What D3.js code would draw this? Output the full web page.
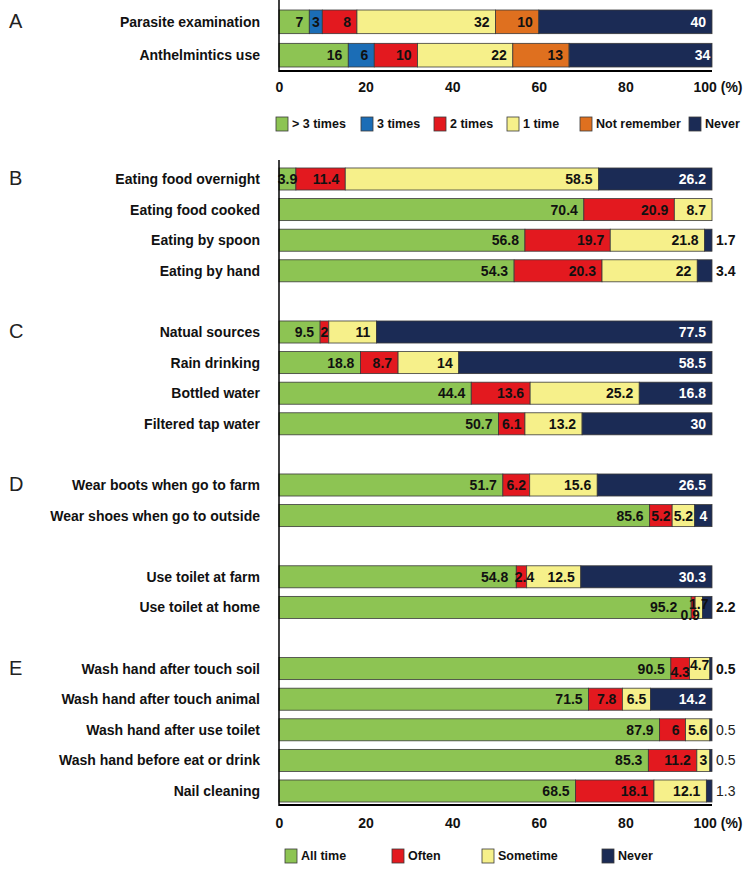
<!DOCTYPE html>
<html><head><meta charset="utf-8">
<script src="https://cdn.jsdelivr.net/npm/d3@7"></script>
<style>
body{margin:0;background:#fff}
text{font-family:"Liberation Sans",Arial,Helvetica,sans-serif}
</style>
</head><body>
<svg id="chart" width="753" height="875"></svg>
<script>
// ---------- DATA ----------
const freqKeys = ["> 3 times", "3 times", "2 times", "1 time", "Not remember", "Never"];
const freqCategories = ["Parasite examination", "Anthelmintics use"];
const parasiteExamination = [7, 3, 8, 32, 10, 40];
const anthelminticsUse = [16, 6, 10, 22, 13, 34];

const habitKeys = ["All time", "Often", "Sometime", "Never"];
const sectionBCategories = ["Eating food overnight", "Eating food cooked", "Eating by spoon", "Eating by hand"];
const sectionBValues = [[3.9, 11.4, 58.5, 26.2], [70.4, 20.9, 8.7, 0], [56.8, 19.7, 21.8, 1.7], [54.3, 20.3, 22, 3.4]];
const sectionCCategories = ["Natual sources", "Rain drinking", "Bottled water", "Filtered tap water"];
const sectionCValues = [[9.5, 2, 11, 77.5], [18.8, 8.7, 14, 58.5], [44.4, 13.6, 25.2, 16.8], [50.7, 6.1, 13.2, 30]];
const sectionDCategories = ["Wear boots when go to farm", "Wear shoes when go to outside"];
const sectionDValues = [[51.7, 6.2, 15.6, 26.5], [85.6, 5.2, 5.2, 4]];
const sectionD2Categories = ["Use toilet at farm", "Use toilet at home"];
const sectionD2Values = [[54.8, 2.4, 12.5, 30.3], [95.2, 0.9, 1.7, 2.2]];
const sectionECategories = ["Wash hand after touch soil", "Wash hand after touch animal", "Wash hand after use toilet", "Wash hand before eat or drink", "Nail cleaning"];
const sectionEValues = [[90.5, 4.3, 4.7, 0.5], [71.5, 7.8, 6.5, 14.2], [87.9, 6, 5.6, 0.5], [85.3, 11.2, 3, 0.5], [68.5, 18.1, 12.1, 1.3]];

const tickValues = [0, 20, 40, 60, 80, 100];
const tickLabels = ["0", "20", "40", "60", "80", "100 (%)"];

// ---------- STYLE ----------
const freqColors = ["#8dc453", "#1b6db6", "#e3191f", "#f6f08a", "#df701f", "#1b2b55"];
const habitColors = ["#8dc453", "#e3191f", "#f6f08a", "#1b2b55"];
const labelNudges = {
  "Use toilet at farm|0": {dx: -2, dy: 0},
  "Use toilet at farm|1": {dx: 3, dy: 0},
  "Use toilet at home|0": {dx: -8, dy: 0},
  "Use toilet at home|1": {dx: -3, dy: 8},
  "Use toilet at home|2": {dx: 0, dy: -3},
  "Wash hand after touch soil|1": {dx: 0, dy: 3},
  "Wash hand after touch soil|2": {dx: 0, dy: -4}
};
const lightOutside = new Set(["Wash hand after use toilet", "Wash hand before eat or drink", "Nail cleaning"]);

const svg = d3.select("#chart");
const x = d3.scaleLinear().domain([0, 100]).range([279, 712]);

// Section A scale
const yA = d3.scaleBand().domain(freqCategories).range([6, 71]).paddingInner(0.29).paddingOuter(0.12);

// Sections B-E scale (with blank rows as gaps)
const rowsBE = [];
function addRows(cats, vals) { cats.forEach((c, i) => rowsBE.push({label: c, values: vals[i]})); }
addRows(sectionBCategories, sectionBValues);
addRows(sectionCCategories, sectionCValues);
addRows(sectionDCategories, sectionDValues);
addRows(sectionD2Categories, sectionD2Values);
addRows(sectionECategories, sectionEValues);
const domainBE = [...sectionBCategories, "gap1", ...sectionCCategories, "gap2", ...sectionDCategories, "gap3", ...sectionD2Categories, "gap4", ...sectionECategories];
const yBE = d3.scaleBand().domain(domainBE).range([163.7, 806.3]).paddingInner(0.28).paddingOuter(0.14);

const rowsA = [
  {label: freqCategories[0], values: parasiteExamination},
  {label: freqCategories[1], values: anthelminticsUse}
];

// measuring helper
const measure = svg.append("text").attr("font-size", 14).attr("font-weight", "bold").attr("opacity", 0);
function textWidth(s) { measure.text(s); return measure.node().getComputedTextLength(); }

function drawRows(rows, y, colors, navyIndex) {
  rows.forEach(row => {
    const g = svg.append("g");
    const segs = [];
    let acc = 0;
    row.values.forEach((v, i) => { segs.push({v, i, x0: acc, x1: acc + v}); acc += v; });
    const yy = y(row.label), bh = y.bandwidth(), cy = yy + bh / 2;
    // bars
    g.selectAll("rect").data(segs.filter(s => s.v > 0)).join("rect")
      .attr("x", s => x(s.x0)).attr("y", yy)
      .attr("width", s => Math.max(0, x(Math.min(s.x1, 100)) - x(s.x0)))
      .attr("height", bh)
      .attr("fill", s => colors[s.i])
      .attr("stroke", "#3a3a3a").attr("stroke-width", 0.8);
    // category label
    svg.append("text").attr("x", 260).attr("y", cy).attr("dy", "0.35em")
      .attr("text-anchor", "end").attr("font-size", 14).attr("font-weight", "bold")
      .attr("fill", "#111").text(row.label);
    // value labels
    segs.filter(s => s.v > 0).forEach(s => {
      const txt = String(s.v);
      const w = textWidth(txt);
      const sw = x(s.x1) - x(s.x0);
      const isNavy = s.i === navyIndex;
      let tx, anchor, fill = isNavy ? "#fff" : "#111", weight = "bold";
      if (isNavy && sw < w + 2) {
        tx = x(100) + 4; anchor = "start"; fill = "#111";
        if (lightOutside.has(row.label)) { weight = "normal"; fill = "#222"; }
      } else if (sw >= w + 14) {
        tx = x(s.x1) - 6; anchor = "end";
      } else {
        tx = (x(s.x0) + x(s.x1)) / 2; anchor = "middle";
      }
      const n = labelNudges[row.label + "|" + s.i] || {dx: 0, dy: 0};
      svg.append("text").attr("x", tx + n.dx).attr("y", cy + n.dy).attr("dy", "0.36em")
        .attr("text-anchor", anchor).attr("font-size", 14).attr("font-weight", weight)
        .attr("fill", fill).text(txt);
    });
  });
}

drawRows(rowsA, yA, freqColors, 5);
drawRows(rowsBE, yBE, habitColors, 3);

// axes lines
function axisLines(yTop, yBottom) {
  svg.append("line").attr("x1", x(0)).attr("x2", x(0)).attr("y1", yTop).attr("y2", yBottom + 1)
    .attr("stroke", "#000").attr("stroke-width", 1.5);
  svg.append("line").attr("x1", x(0)).attr("x2", x(100)).attr("y1", yBottom).attr("y2", yBottom)
    .attr("stroke", "#000").attr("stroke-width", 2);
}
axisLines(0, 71);
axisLines(160, 805);

// tick labels via d3 axis (no domain/ticks)
function tickAxis(yPos) {
  const ax = d3.axisBottom(x).tickValues(tickValues).tickSize(0).tickPadding(0)
    .tickFormat((d, i) => tickLabels[i]);
  const g = svg.append("g").attr("transform", `translate(0,${yPos})`).call(ax);
  g.select(".domain").remove();
  g.selectAll("text").attr("font-size", 14).attr("font-weight", "bold").attr("fill", "#111")
    .attr("font-family", '"Liberation Sans",Arial,sans-serif')
    .attr("dy", "0.35em").attr("y", 0)
    .each(function(d) { if (d === 100) d3.select(this).attr("text-anchor", "start").attr("x", -19); });
}
tickAxis(87);
tickAxis(823);

// section letters
const sectionLetters = [["A", yA, freqCategories[0]], ["B", yBE, sectionBCategories[0]], ["C", yBE, sectionCCategories[0]], ["D", yBE, sectionDCategories[0]], ["E", yBE, sectionECategories[0]]];
sectionLetters.forEach(([l, sc, cat]) => {
  svg.append("text").attr("x", 9).attr("y", sc(cat) + sc.bandwidth() / 2 - 1).attr("dy", "0.35em")
    .attr("font-size", 20).attr("fill", "#222").text(l);
});

// legends
function legend(keys, colors, xs, yc) {
  keys.forEach((k, i) => {
    svg.append("rect").attr("x", xs[i]).attr("y", yc - 7).attr("width", 12).attr("height", 14)
      .attr("fill", colors[i]).attr("stroke", "#3a3a3a").attr("stroke-width", 0.8);
    svg.append("text").attr("x", xs[i] + 16).attr("y", yc).attr("dy", "0.35em")
      .attr("font-size", 12.5).attr("font-weight", "bold").attr("fill", "#111").text(k);
  });
}
legend(freqKeys, freqColors, [276, 361, 434, 507, 580, 689], 124);
legend(habitKeys, habitColors, [285, 392, 482, 602], 856);
</script>
</body></html>
